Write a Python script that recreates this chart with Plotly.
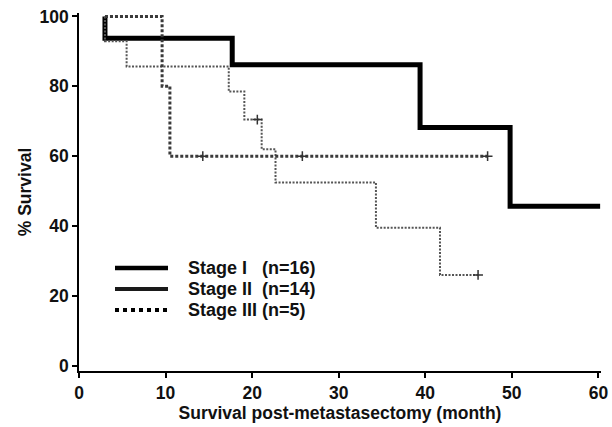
import plotly.graph_objects as go

# Kaplan-Meier step data (months, % survival)
stage1_time = [3.0, 3.0, 17.7, 39.4, 49.8, 60.2]
stage1_surv = [100, 93.75, 86.2, 68.2, 45.7, 45.7]

stage2_time = [3.0, 3.0, 5.5, 17.3, 19.1, 21.1, 22.7, 34.3, 41.7, 46.1]
stage2_surv = [100, 92.9, 85.7, 78.5, 70.5, 62.0, 52.5, 39.5, 26.0, 26.0]

stage3_time = [3.0, 9.6, 10.5, 47.2]
stage3_surv = [100, 80, 60, 60]

stage2_cens_time = [20.6, 46.1]
stage2_cens_surv = [70.5, 26.0]
stage3_cens_time = [14.3, 25.8, 47.2]
stage3_cens_surv = [60, 60, 60]

legend_labels = ["Stage I\u00a0\u00a0\u00a0(n=16)", "Stage II\u00a0\u00a0(n=14)", "Stage III\u00a0(n=5)"]

x_ticks = [0, 10, 20, 30, 40, 50, 60]
y_ticks = [0, 20, 40, 60, 80, 100]

FONT = "Arial, 'Liberation Sans', sans-serif"
FS = 17.5

W, H = 612, 427
ML, MR, MT, MB = 79, 11, 12.5, 55.75
PW = W - ML - MR
PH = H - MT - MB

def px_x(p):
    return (p - ML) / PW

def px_y(p):
    return (H - MB - p) / PH

fig = go.Figure()

fig.add_trace(go.Scatter(x=stage1_time, y=stage1_surv, mode="lines", line_shape="hv",
                         line=dict(color="#000000", width=5), showlegend=False))
fig.add_trace(go.Scatter(x=stage2_time, y=stage2_surv, mode="lines", line_shape="hv",
                         line=dict(color="#555555", width=2, dash="2px,1.5px"), showlegend=False))
fig.add_trace(go.Scatter(x=stage3_time, y=stage3_surv, mode="lines", line_shape="hv",
                         line=dict(color="#3a3a3a", width=3, dash="3px,2px"), showlegend=False))

fig.add_trace(go.Scatter(x=stage2_cens_time, y=stage2_cens_surv, mode="markers",
                         marker=dict(symbol="cross-thin", size=7, line=dict(color="#333", width=1.5)),
                         showlegend=False))
fig.add_trace(go.Scatter(x=stage3_cens_time, y=stage3_cens_surv, mode="markers",
                         marker=dict(symbol="cross-thin", size=7, line=dict(color="#333", width=1.5)),
                         showlegend=False))

# legend (drawn to match the reference key)
legend_rows_px = [268, 289, 310]
legend_styles = [dict(color="#000000", width=4.5),
                 dict(color="#1a1a1a", width=4),
                 dict(color="#000000", width=4, dash="4px,4px")]
for lab, ry, st in zip(legend_labels, legend_rows_px, legend_styles):
    fig.add_shape(type="line", xref="paper", yref="paper",
                  x0=px_x(115), x1=px_x(168), y0=px_y(ry), y1=px_y(ry), line=st)
    fig.add_annotation(xref="paper", yref="paper", x=px_x(186), y=px_y(ry),
                       xanchor="left", yanchor="middle", showarrow=False, text=lab,
                       font=dict(family=FONT, size=18, color="#111", weight="bold"))

fig.update_layout(
    width=W, height=H,
    margin=dict(l=ML, r=MR, t=MT, b=MB),
    paper_bgcolor="white", plot_bgcolor="white",
    font=dict(family=FONT, size=FS, color="#111"),
    showlegend=False,
    xaxis=dict(range=[0, 60.3], tickmode="array", tickvals=x_ticks, automargin=False,
               showline=True, linecolor="#000", linewidth=1.5, mirror=False,
               ticks="outside", ticklen=5, tickcolor="#000", tickwidth=1.5,
               showgrid=False, zeroline=False,
               tickfont=dict(family=FONT, size=FS, color="#111", weight="bold"),
               title=dict(text="Survival post-metastasectomy (month)", standoff=4,
                          font=dict(family=FONT, size=FS, color="#111", weight="bold"))),
    yaxis=dict(range=[-1.5, 101], tickmode="array", tickvals=y_ticks, automargin=False,
               showline=True, linecolor="#000", linewidth=1.5,
               ticks="outside", ticklen=5, tickcolor="#000", tickwidth=1.5,
               showgrid=False, zeroline=False,
               tickfont=dict(family=FONT, size=FS, color="#111", weight="bold"),
               title=dict(text="% Survival", standoff=3,
                          font=dict(family=FONT, size=FS, color="#111", weight="bold"))),
)

fig.write_html("out.html", config={"displayModeBar": False},
               post_script="document.body.style.margin='0';")
